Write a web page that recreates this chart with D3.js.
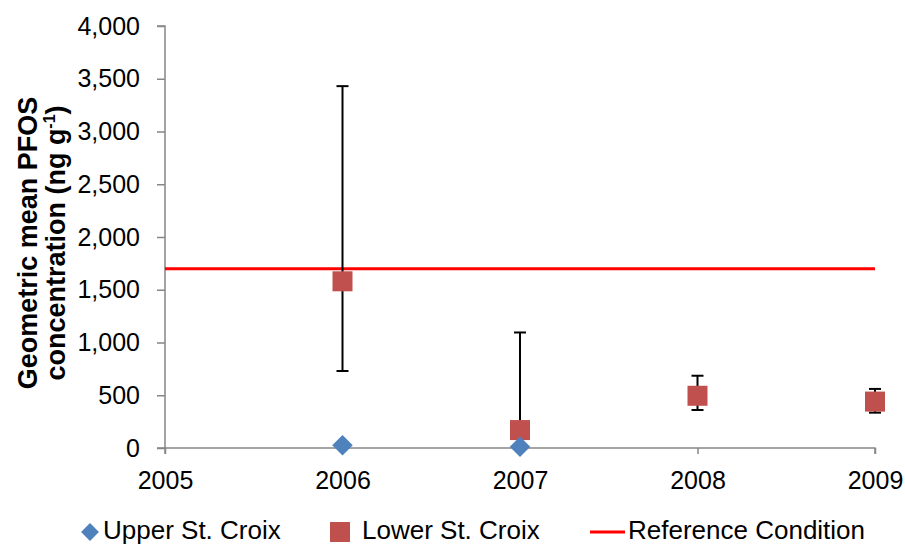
<!DOCTYPE html>
<html><head><meta charset="utf-8">
<script src="https://cdn.jsdelivr.net/npm/d3@7"></script>
<style>body{margin:0;background:#fff}svg{display:block}text{font-family:"Liberation Sans",Arial,sans-serif}</style>
</head><body><svg id="c" width="905" height="546"></svg>
<script>
const years = [2006, 2007, 2008, 2009];
const upperYears = [2006, 2007];
const upperValues = [25, 12];
const lowerValues = [1580, 170, 495, 440];
const lowerErrHigh = [3430, 1095, 685, 560];
const lowerErrLow = [730, 100, 360, 335];
const referenceValue = 1700;
const xTicks = [2005, 2006, 2007, 2008, 2009];
const yTicks = [0, 500, 1000, 1500, 2000, 2500, 3000, 3500, 4000];

const svg = d3.select("#c");
const x = d3.scaleLinear().domain([2005, 2009]).range([165, 875]);
const y = d3.scaleLinear().domain([0, 4000]).range([448, 26]);
const axisColor = "#868686";
const FONT = "Liberation Sans, Arial, sans-serif";

// y axis
const ya = svg.append("g").attr("transform", "translate(165,0)")
  .call(d3.axisLeft(y).tickValues(yTicks).tickSize(8).tickPadding(17).tickFormat(d3.format(",")));
ya.select(".domain").attr("stroke", axisColor).attr("stroke-width", 1.5).attr("d", "M-8,26H0V448H-8");
ya.selectAll(".tick line").attr("stroke", axisColor).attr("stroke-width", 1.5);
ya.selectAll("text").attr("font-size", 25).attr("fill", "#000").attr("font-family", FONT);

// x axis
const xa = svg.append("g").attr("transform", "translate(0,448)")
  .call(d3.axisBottom(x).tickValues(xTicks).tickSize(6).tickPadding(17).tickFormat(d3.format("d")));
xa.select(".domain").attr("stroke", axisColor).attr("stroke-width", 1.5).attr("d", "M165,6V0H875V6");
xa.selectAll(".tick line").attr("stroke", axisColor).attr("stroke-width", 1.5);
xa.selectAll("text").attr("font-size", 25).attr("fill", "#000").attr("font-family", FONT);

// reference line
svg.append("line").attr("x1", x(2005)).attr("x2", x(2009))
  .attr("y1", y(referenceValue)).attr("y2", y(referenceValue))
  .attr("stroke", "#FF0000").attr("stroke-width", 3);

// error bars
const eb = svg.append("g").attr("stroke", "#000").attr("stroke-width", 2);
years.forEach((yr, i) => {
  eb.append("line").attr("x1", x(yr)).attr("x2", x(yr)).attr("y1", y(lowerErrLow[i])).attr("y2", y(lowerErrHigh[i]));
  eb.append("line").attr("x1", x(yr) - 6).attr("x2", x(yr) + 6).attr("y1", y(lowerErrHigh[i])).attr("y2", y(lowerErrHigh[i]));
  eb.append("line").attr("x1", x(yr) - 6).attr("x2", x(yr) + 6).attr("y1", y(lowerErrLow[i])).attr("y2", y(lowerErrLow[i]));
});

// lower markers
svg.append("g").selectAll("rect").data(years).join("rect")
  .attr("x", d => x(d) - 10).attr("y", (d, i) => y(lowerValues[i]) - 10)
  .attr("width", 20).attr("height", 20).attr("fill", "#C0504D");

// upper markers
const diamond = d3.symbol().type(d3.symbolSquare).size(210);
svg.append("g").selectAll("path").data(upperYears).join("path")
  .attr("d", diamond)
  .attr("transform", (d, i) => `translate(${x(d)},${y(upperValues[i])}) rotate(45)`)
  .attr("fill", "#4F81BD");

// y label
const yl = svg.append("text").attr("transform", "translate(0,243) rotate(-90)")
  .attr("text-anchor", "middle").attr("font-size", 27).attr("font-weight", "bold").attr("fill", "#000");
yl.append("tspan").attr("x", 0).attr("y", 37).text("Geometric mean PFOS");
const l2 = yl.append("tspan").attr("x", 0).attr("y", 65).text("concentration (ng g");
l2.append("tspan").attr("font-size", 16).attr("dy", -10).text("-1");
l2.append("tspan").attr("dy", 10).text(")");

// legend
const lg = svg.append("g").attr("font-size", 26).attr("fill", "#000");
lg.append("path").attr("d", d3.symbol().type(d3.symbolSquare).size(160))
  .attr("transform", "translate(90,532) rotate(45)").attr("fill", "#4F81BD");
lg.append("text").attr("x", 103).attr("y", 539).text("Upper St. Croix");
lg.append("rect").attr("x", 330).attr("y", 522).attr("width", 20).attr("height", 20).attr("fill", "#C0504D");
lg.append("text").attr("x", 362).attr("y", 539).text("Lower St. Croix");
lg.append("line").attr("x1", 590).attr("x2", 625).attr("y1", 532).attr("y2", 532).attr("stroke", "#FF0000").attr("stroke-width", 3);
lg.append("text").attr("x", 628).attr("y", 539).text("Reference Condition");
</script></body></html>
